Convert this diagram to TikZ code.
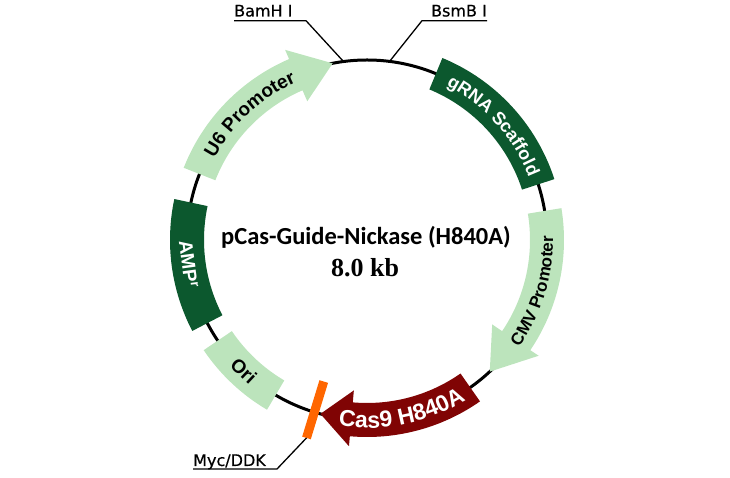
\documentclass[tikz,border=0pt]{standalone}
\usepackage{fontspec}
\usepackage{xcolor}
\usetikzlibrary{decorations.text}
\newfontfamily\pmfeat{Liberation Sans}
\newfontface\pmsitefont{DejaVu Sans}[FakeBold=0.5]
\newfontfamily\pmtitlefont{Carlito}
\newfontfamily\pmsizefont{Liberation Serif}
\definecolor{pmlight}{RGB}{188,228,188}
\definecolor{pmdark}{RGB}{12,88,46}
\definecolor{pmred}{RGB}{128,4,4}
\definecolor{pmorange}{RGB}{255,102,0}
\tikzset{
  pmbackbone/.style={line width=3pt, draw=black},
  pmpromoter/.style={fill=pmlight},
  pmmarker/.style={fill=pmdark},
  pmcds/.style={fill=pmred},
  pmtag/.style={line width=9pt, draw=pmorange, line cap=butt},
  pmleader/.style={line width=1.3pt, draw=black},
  pmsite/.style={font=\pmsitefont\fontsize{16}{16}\selectfont, inner sep=0pt},
  pmbox/.style={font=\pmfeat\bfseries\fontsize{19}{20}\selectfont, inner sep=0pt},
}

\begin{document}
\begin{tikzpicture}[x=1pt, y=1pt]
\useasboundingbox (0,0) rectangle (730,478);
\begin{scope}[shift={(367,238)}]
\draw[pmbackbone] (0,0) circle (180);
% features
\fill[pmpromoter] (158.5:197) arc[start angle=158.5, end angle=113.3, radius=197] -- (113.3:207) -- (101:180) -- (113.3:151) -- (113.3:163) arc[start angle=113.3, end angle=158.5, radius=163] -- cycle;
\fill[pmmarker] (67.5:197) arc[start angle=67.5, end angle=18, radius=197] -- (18:163) arc[start angle=18, end angle=67.5, radius=163] -- cycle;
\fill[pmpromoter] (9.3:197) arc[start angle=9.3, end angle=-34, radius=197] -- (-34:207) -- (-47:180) -- (-34:151) -- (-34:163) arc[start angle=-34, end angle=9.3, radius=163] -- cycle;
\fill[pmcds] (-55:197) arc[start angle=-55, end angle=-95, radius=197] -- (-95:207) -- (-105:180) -- (-95:151) -- (-95:163) arc[start angle=-95, end angle=-55, radius=163] -- cycle;
\fill[pmpromoter] (214:197) arc[start angle=214, end angle=239.5, radius=197] -- (239.5:163) arc[start angle=239.5, end angle=214, radius=163] -- cycle;
\fill[pmmarker] (168:197) arc[start angle=168, end angle=207.5, radius=197] -- (207.5:163) arc[start angle=207.5, end angle=168, radius=163] -- cycle;
\coordinate (myctop) at (253:148);
\coordinate (mycend) at (253:207);
\draw[pmtag] (myctop) -- (mycend);
\coordinate (bamhsite) at (97.5:180);
\coordinate (bsmbsite) at (82.8:180);
% labels on the features
\path[decorate, decoration={text along path, text align=center,
  text={|\pmfeat\bfseries\fontsize{19}{19}\selectfont|U6 Promoter}}]
  (170:173) arc[start angle=170, end angle=96, radius=173];
\path[decorate, decoration={text along path, text align=center, text color=white,
  text={|\pmfeat\bfseries\fontsize{18}{18}\selectfont|gRNA Scaffold}}]
  (80:173.5) arc[start angle=80, end angle=4, radius=173.5];
\path[decorate, decoration={text along path, text align=center,
  text={|\pmfeat\bfseries\fontsize{17}{17}\selectfont|CMV Promoter}}]
  (-55:186) arc[start angle=-55, end angle=21, radius=186];
\path[decorate, decoration={text along path, text align=center, text color=white,
  text={|\pmfeat\bfseries\fontsize{23}{23}\selectfont|Cas9 H840A}}]
  (-110:188) arc[start angle=-110, end angle=-47, radius=188];
\node[pmbox, rotate=-43.2] (ori) at (226.8:180) {Ori};
\node[pmbox, text=white, rotate=-82.3] (amp) at (187.7:180) {AMP\textsuperscript{r}};
\end{scope}
% sites
\coordinate (bamhknee) at (306,457.3);
\coordinate (bsmbknee) at (422,457.3);
\coordinate (mycknee) at (277,9);
\node[pmsite, anchor=base west] (bamh) at (234,461.5) {BamH I};
\node[pmsite, anchor=base east] (bsmb) at (487,461.5) {BsmB I};
\node[pmsite, anchor=base west] (myc) at (193,12) {Myc/DDK};
\draw[pmleader] (bamhsite) -- (bamhknee) -- (bamhknee -| bamh.west);
\draw[pmleader] (bsmbsite) -- (bsmbknee) -- (bsmbknee -| bsmb.east);
\draw[pmleader] (mycend) -- (mycknee) -- (mycknee -| myc.west);
% name and size
\node[font=\pmtitlefont\bfseries\fontsize{24.5}{25}\selectfont, anchor=base] (title) at (366,233) {pCas-Guide-Nickase (H840A)};
\node[font=\pmsizefont\bfseries\fontsize{26}{26}\selectfont, anchor=base] (size) at (365,201) {8.0 kb};
\end{tikzpicture}
\end{document}
